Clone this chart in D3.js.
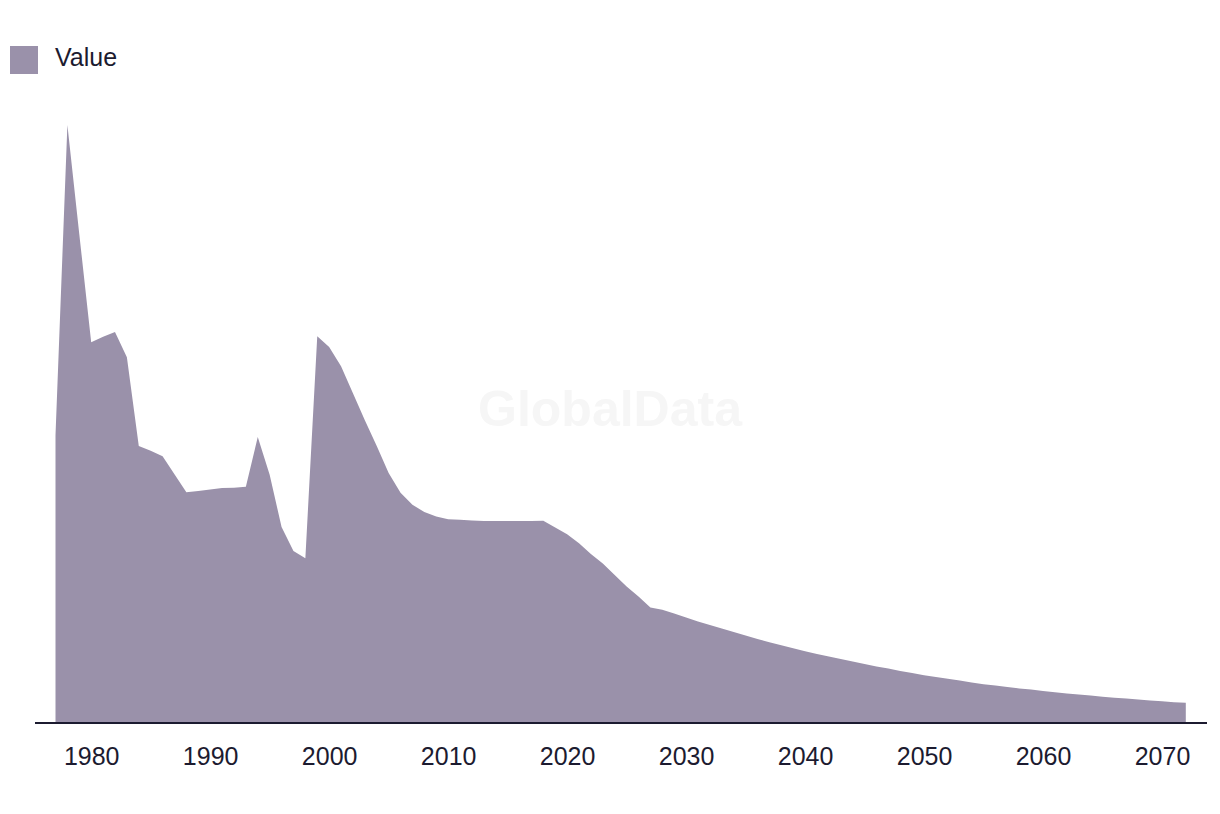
<!DOCTYPE html>
<html>
<head>
<meta charset="utf-8">
<script src="https://cdn.jsdelivr.net/npm/d3@7"></script>
<style>
  html, body { margin: 0; padding: 0; background: #ffffff; }
  svg { display: block; }
</style>
</head>
<body>
<svg id="chart" width="1220" height="814"></svg>
<script>
const years = d3.range(1977, 2073);
const values = [
  47.8, 99.5, 81.3, 63.3, 64.2, 65.0, 60.8, 46.0, 45.2, 44.3,   // 1977-1986
  41.3, 38.3, 38.5, 38.75, 39.0, 39.05, 39.2, 47.5, 41.2, 32.5, // 1987-1996
  28.5, 27.3, 64.3, 62.5, 59.3, 54.8, 50.3, 46.0, 41.5, 38.2,   // 1997-2006
  36.2, 35.0, 34.25, 33.8, 33.7, 33.6, 33.5, 33.5, 33.5, 33.5,  // 2007-2016
  33.5, 33.55, 32.4, 31.3, 29.8, 28.0, 26.4, 24.5, 22.6, 20.9,  // 2017-2026
  19.1, 18.7, 18.1, 17.4, 16.75, 16.15, 15.6, 15.0, 14.4, 13.85, // 2027-2036
  13.3, 12.8, 12.3, 11.8, 11.35, 10.9, 10.5, 10.1, 9.65, 9.25,  // 2037-2046
  8.9, 8.5, 8.15, 7.8, 7.5, 7.2, 6.9, 6.6, 6.3, 6.1,            // 2047-2056
  5.85, 5.6, 5.4, 5.15, 4.95, 4.75, 4.6, 4.4, 4.2, 4.05,        // 2057-2066
  3.9, 3.75, 3.6, 3.45, 3.3, 3.2                                // 2067-2072
];
const tickYears = [1980, 1990, 2000, 2010, 2020, 2030, 2040, 2050, 2060, 2070];
const seriesName = "Value";

const data = years.map((y, i) => ({ year: y, value: values[i] }));

const svg = d3.select("#chart");
const areaColor = "#9a91aa";
const inkColor = "#1c1b30";
const fontFamily = "Liberation Sans, Arial, sans-serif";

const x = d3.scaleLinear().domain([1977, 2072]).range([55.5, 1185.8]);
const y = d3.scaleLinear().domain([0, 100]).range([722, 122]);

// watermark
svg.append("text")
  .attr("x", 610).attr("y", 426)
  .attr("text-anchor", "middle")
  .attr("font-family", fontFamily)
  .attr("font-weight", "bold")
  .attr("font-size", 50)
  .attr("fill", "#f6f6f6")
  .text("GlobalData");

// area
const area = d3.area()
  .x(d => x(d.year))
  .y0(y(0))
  .y1(d => y(d.value));

svg.append("path")
  .datum(data)
  .attr("d", area)
  .attr("fill", areaColor);

// x axis
const xAxis = d3.axisBottom(x)
  .tickValues(tickYears)
  .tickFormat(d3.format("d"))
  .tickSize(0)
  .tickPadding(24);

const gx = svg.append("g")
  .attr("transform", `translate(0,${y(0) + 1})`)
  .call(xAxis);
gx.select(".domain").remove();
gx.append("line")
  .attr("x1", 35).attr("x2", 1207)
  .attr("y1", 0).attr("y2", 0)
  .attr("stroke", inkColor)
  .attr("stroke-width", 2);
gx.selectAll(".tick text")
  .attr("fill", inkColor)
  .attr("font-family", fontFamily)
  .attr("font-size", 25);

// legend
const legend = svg.append("g").attr("transform", "translate(10,46)");
legend.append("rect")
  .attr("width", 28).attr("height", 28)
  .attr("fill", areaColor);
legend.append("text")
  .attr("x", 45).attr("y", 20)
  .attr("fill", inkColor)
  .attr("font-family", fontFamily)
  .attr("font-size", 25)
  .text(seriesName);
</script>
</body>
</html>
